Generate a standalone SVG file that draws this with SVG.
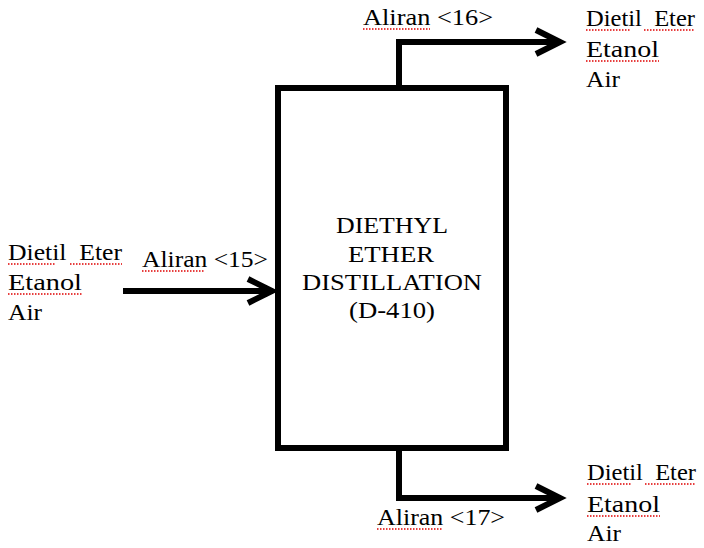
<svg xmlns="http://www.w3.org/2000/svg" width="704" height="548" viewBox="0 0 704 548">
<style>
  .c { text-anchor: middle; }
  .ln { fill: none; stroke: #000; stroke-width: 6; stroke-linejoin: miter; }
  .sq { fill: none; stroke: #e00000; stroke-width: 1.3; stroke-dasharray: 1.5 1.5; }
</style>
<defs>
  <marker id="arr" markerUnits="userSpaceOnUse" markerWidth="40" markerHeight="40" refX="0" refY="0" viewBox="-30 -20 40 40" orient="auto" overflow="visible">
    <path d="M-24,-12 L0,0 L-24,12" fill="none" stroke="#000" stroke-width="6" stroke-linejoin="miter"/>
  </marker>
</defs>
<rect width="704" height="548" fill="#fff"/>

<g id="connectors">
  <path class="ln" d="M123,291 L272,291" marker-end="url(#arr)"/>
  <path class="ln" d="M399,88 L399,42 L560,42" marker-end="url(#arr)"/>
  <path class="ln" d="M399,448 L399,498 L560,498" marker-end="url(#arr)"/>
</g>

<g font-family="Liberation Serif, Tinos, Times New Roman, DejaVu Serif, serif" font-size="24" fill="#000">
<g id="d410">
  <rect class="ln" x="278" y="88" width="228" height="360"/>
  <text class="c" x="392" y="233" textLength="112" lengthAdjust="spacingAndGlyphs">DIETHYL</text>
  <text class="c" x="391" y="262" textLength="86" lengthAdjust="spacingAndGlyphs">ETHER</text>
  <text class="c" x="392" y="290" textLength="180" lengthAdjust="spacingAndGlyphs">DISTILLATION</text>
  <text class="c" x="392" y="318" textLength="86" lengthAdjust="spacingAndGlyphs">(D-410)</text>
</g>

<g id="feed">
  <text x="8" y="260" textLength="114" lengthAdjust="spacingAndGlyphs" xml:space="preserve">Dietil  Eter</text>
  <text x="8" y="290" textLength="74" lengthAdjust="spacingAndGlyphs">Etanol</text>
  <text x="8" y="320" textLength="34" lengthAdjust="spacingAndGlyphs">Air</text>
  <path class="sq" d="M8,264 H56 M70,264 H122 M8,294 H82"/>
</g>

<g id="label15">
  <text x="142" y="267" textLength="126" lengthAdjust="spacingAndGlyphs">Aliran &lt;15&gt;</text>
  <path class="sq" d="M142,271 H205"/>
</g>

<g id="label16">
  <text x="363" y="25" textLength="130" lengthAdjust="spacingAndGlyphs">Aliran &lt;16&gt;</text>
  <path class="sq" d="M363,29 H430"/>
</g>

<g id="top-product">
  <text x="586" y="26" textLength="109" lengthAdjust="spacingAndGlyphs" xml:space="preserve">Dietil  Eter</text>
  <text x="586" y="57" textLength="73" lengthAdjust="spacingAndGlyphs">Etanol</text>
  <text x="586" y="87" textLength="34" lengthAdjust="spacingAndGlyphs">Air</text>
  <path class="sq" d="M586,30 H630 M644,30 H695 M586,61 H659"/>
</g>

<g id="label17">
  <text x="377" y="525" textLength="128" lengthAdjust="spacingAndGlyphs">Aliran &lt;17&gt;</text>
  <path class="sq" d="M377,529 H442"/>
</g>

<g id="bottom-product">
  <text x="587" y="480" textLength="109" lengthAdjust="spacingAndGlyphs" xml:space="preserve">Dietil  Eter</text>
  <text x="587" y="512" textLength="73" lengthAdjust="spacingAndGlyphs">Etanol</text>
  <text x="587" y="541" textLength="34" lengthAdjust="spacingAndGlyphs">Air</text>
  <path class="sq" d="M587,484 H631 M645,484 H696 M587,516 H660"/>
</g>
</g>
</svg>
